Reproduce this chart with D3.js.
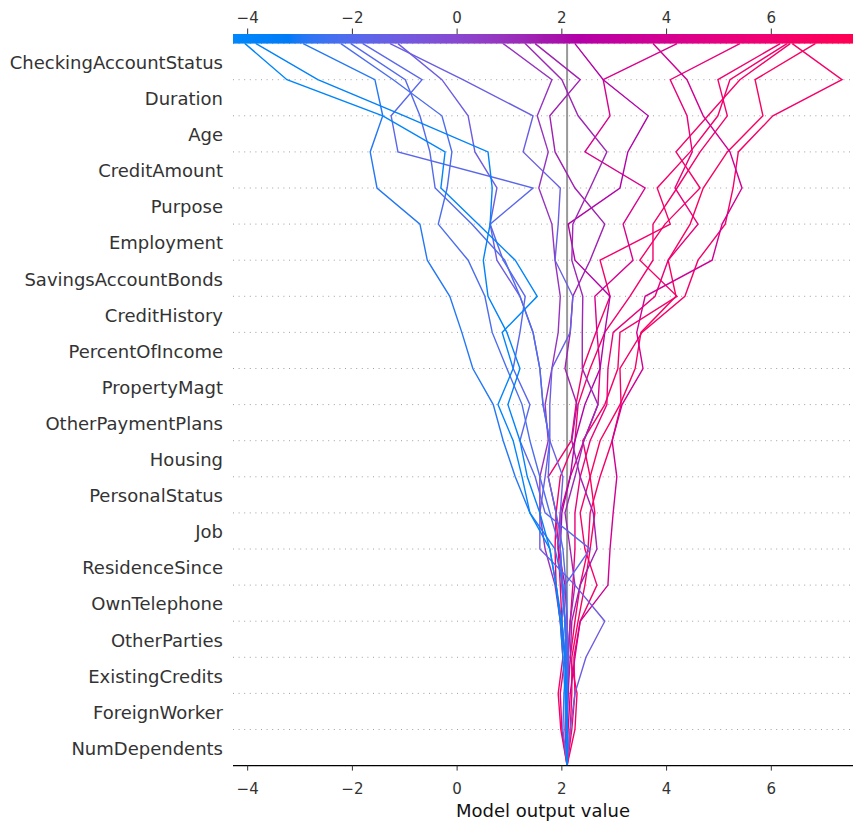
<!DOCTYPE html>
<html>
<head>
<meta charset="utf-8">
<script src="https://cdn.jsdelivr.net/npm/d3@7"></script>
<style>
  html, body { margin: 0; padding: 0; background: #fff; }
  svg { display: block; }
  text { font-family: "DejaVu Sans", sans-serif; }
</style>
</head>
<body>
<svg id="chart" width="863" height="824"></svg>
<script>
// ---- data ----
const features = ["CheckingAccountStatus","Duration","Age","CreditAmount","Purpose","Employment",
  "SavingsAccountBonds","CreditHistory","PercentOfIncome","PropertyMagt","OtherPaymentPlans","Housing",
  "PersonalStatus","Job","ResidenceSince","OwnTelephone","OtherParties","ExistingCredits",
  "ForeignWorker","NumDependents"];
const baseValue = 2.1;
const xTicks = [-4, -2, 0, 2, 4, 6];
const xDomain = [-4.28, 7.56];

// cumulative model output, read top (final output) to bottom (just above base value)
const obs01 = [-4.05,-3.25,-1.42,-0.23,-0.31,0.40,1.11,1.53,0.86,1.07,0.78,1.07,1.24,1.39,1.77,1.89,1.97,2.02,2.06,2.08];
const obs02 = [-3.84,-2.66,-1.01,0.59,0.67,0.63,0.50,0.59,0.95,1.20,0.97,1.20,1.34,1.58,1.77,1.89,2.00,2.06,2.08,2.10];
const obs03 = [-2.94,-1.57,-1.42,-1.66,-1.53,-0.71,-0.57,-0.14,0.09,0.30,0.69,0.88,1.11,1.39,1.87,2.02,2.06,2.08,2.10,2.10];
const obs04 = [-2.22,-1.22,-0.29,-0.10,-0.19,-0.36,0.21,0.53,0.67,0.95,1.24,1.39,1.58,1.77,1.97,2.00,2.06,2.10,2.04,2.02];
const obs05 = [-2.03,-0.99,-0.71,-0.52,-0.42,0.28,0.91,1.20,1.45,1.58,1.64,1.77,1.74,1.89,2.02,2.08,2.10,2.12,2.10,2.08];
const obs06 = [-1.80,-0.67,-1.26,-1.13,1.45,0.63,0.88,1.30,1.20,1.07,1.39,1.20,1.49,1.68,2.54,2.06,2.00,2.06,2.08,2.10];
const obs07 = [-1.13,-0.29,0.21,0.34,0.76,0.63,0.76,1.20,1.45,1.58,1.64,1.77,1.68,1.58,1.58,2.25,2.82,2.46,2.25,2.16];
const obs08 = [-1.28,0.11,1.45,1.26,1.97,1.93,1.87,2.21,2.16,1.81,1.77,1.77,2.02,1.97,1.97,2.02,2.06,2.08,2.10,2.10];
const obs09 = [0.88,1.81,1.53,1.74,1.56,1.81,1.87,1.97,1.93,1.81,1.68,1.74,1.58,1.58,1.68,1.87,1.97,2.06,2.08,2.10];
const obs10 = [1.30,2.00,2.31,2.86,2.54,2.21,2.19,2.40,2.39,2.39,2.69,2.42,2.25,2.06,2.16,2.25,2.16,2.12,2.10,2.10];
const obs11 = [1.49,2.35,1.77,1.87,2.25,2.82,2.54,2.21,2.16,2.06,2.29,2.19,2.35,2.60,2.67,2.35,2.19,2.16,2.12,2.10];
const obs12 = [2.25,2.79,3.65,3.26,3.11,2.12,2.25,2.92,2.82,2.73,2.44,2.25,2.16,2.00,1.97,2.00,2.06,2.10,2.10,2.10];
const obs13 = [4.20,2.79,2.92,2.44,3.59,3.17,3.36,2.63,2.67,2.73,2.69,2.42,2.16,1.97,1.93,2.06,2.10,2.12,2.08,2.06];
const obs14 = [3.74,4.39,4.70,5.21,5.44,5.06,4.87,3.59,3.43,3.55,3.15,2.96,3.05,2.98,2.92,2.88,2.35,2.25,2.16,2.12];
const obs15 = [5.40,4.07,4.39,4.49,4.16,4.60,4.03,3.78,2.98,2.88,2.86,2.54,2.35,2.25,2.25,2.21,2.16,2.12,2.12,2.08];
const obs16 = [6.17,4.98,5.16,4.64,4.20,3.74,3.74,3.30,2.82,2.54,2.31,2.25,1.97,1.89,1.87,1.89,1.97,2.02,1.93,1.98];
const obs17 = [6.30,5.21,4.98,4.45,3.82,4.07,2.73,2.92,2.65,2.40,2.27,2.18,1.74,1.89,1.93,1.97,2.00,2.06,1.97,2.00];
const obs18 = [6.36,5.40,4.79,4.18,4.64,3.97,3.49,4.20,3.11,3.07,2.82,2.40,2.54,2.35,2.44,2.67,2.35,2.23,2.25,2.19];
const obs19 = [6.40,7.35,6.03,5.37,5.27,5.12,4.60,4.35,3.53,3.11,3.13,2.96,2.73,2.54,2.50,2.35,2.25,2.16,2.29,2.25];
const obs20 = [6.84,5.69,5.84,5.16,4.70,4.45,4.03,4.18,3.51,3.40,3.11,2.73,2.54,2.63,2.54,2.44,2.31,2.19,2.19,2.16];
const observations = [obs01,obs02,obs03,obs04,obs05,obs06,obs07,obs08,obs09,obs10,
                      obs11,obs12,obs13,obs14,obs15,obs16,obs17,obs18,obs19,obs20];

// ---- shap red_blue colormap (LCH interpolation) ----
function redBlue(t) {
  t = Math.max(0, Math.min(1, t));
  const L = t < 0.5 ? 54 + (40 - 54) * (t / 0.5) : 40 + (54 - 40) * ((t - 0.5) / 0.5);
  const C = 70 + 20 * t;
  const H = 4.6588 + ((0.35470565 + 2 * Math.PI) - 4.6588) * t;
  return d3.hcl(H * 180 / Math.PI, C, L).formatHex();
}

// ---- layout ----
const svg = d3.select("#chart");
const plotLeft = 233, plotRight = 853, plotTop = 43.6, plotBottom = 765.6;
const n = features.length;
const x = d3.scaleLinear().domain(xDomain).range([plotLeft, plotRight]);
const y = d3.scaleLinear().domain([0, n]).range([plotBottom, plotTop]);

// dotted row separators
svg.append("g").selectAll("line").data(d3.range(0, n + 1)).join("line")
  .attr("x1", plotLeft).attr("x2", plotRight)
  .attr("y1", d => y(d)).attr("y2", d => y(d))
  .attr("stroke", "#888").attr("stroke-width", 0.8)
  .attr("stroke-dasharray", "1,4.6");

// base value line
svg.append("line")
  .attr("x1", x(baseValue)).attr("x2", x(baseValue))
  .attr("y1", plotTop).attr("y2", plotBottom)
  .attr("stroke", "#999999").attr("stroke-width", 2);

// decision lines
const lineGen = d3.line().x(d => x(d.v)).y(d => y(d.k));
const tOf = v => (v - xDomain[0]) / (xDomain[1] - xDomain[0]);
const sorted = observations.slice().sort((a, b) => b[0] - a[0]);
svg.append("g").selectAll("path").data(sorted).join("path")
  .attr("d", arr => {
    const pts = arr.map((v, i) => ({ v: v, k: n - i }));
    pts.push({ v: baseValue, k: 0 });
    return lineGen(pts);
  })
  .attr("fill", "none")
  .attr("stroke", arr => redBlue(tOf(arr[0])))
  .attr("stroke-width", 1.4)
  .attr("stroke-linejoin", "miter");

// color bar
const defs = svg.append("defs");
const grad = defs.append("linearGradient").attr("id", "cbar")
  .attr("x1", "0%").attr("x2", "100%").attr("y1", "0%").attr("y2", "0%");
d3.range(0, 101).forEach(i => {
  grad.append("stop").attr("offset", i + "%").attr("stop-color", redBlue(i / 100));
});
svg.append("rect").attr("x", plotLeft).attr("y", 34).attr("width", plotRight - plotLeft).attr("height", plotTop - 34)
  .attr("fill", "url(#cbar)");

// feature labels
svg.append("g").selectAll("text").data(features).join("text")
  .attr("x", 223)
  .attr("y", (d, i) => y(n - i - 0.5) + 7.3)
  .attr("text-anchor", "end")
  .attr("font-size", 18)
  .attr("fill", "#333333")
  .text(d => d);

const fmt = v => (v < 0 ? "\u2212" + Math.abs(v) : String(v));

// top axis
const topAxis = svg.append("g");
topAxis.selectAll("line").data(xTicks).join("line")
  .attr("x1", d => x(d)).attr("x2", d => x(d))
  .attr("y1", 28.5).attr("y2", 34)
  .attr("stroke", "#333").attr("stroke-width", 1);
topAxis.selectAll("text").data(xTicks).join("text")
  .attr("x", d => x(d)).attr("y", 23)
  .attr("text-anchor", "middle").attr("font-size", 15).attr("fill", "#333333")
  .text(fmt);

// bottom axis
const botAxis = svg.append("g");
botAxis.append("line").attr("x1", plotLeft).attr("x2", plotRight).attr("y1", plotBottom).attr("y2", plotBottom)
  .attr("stroke", "#000").attr("stroke-width", 1.1);
botAxis.selectAll("line.tick").data(xTicks).join("line").attr("class", "tick")
  .attr("x1", d => x(d)).attr("x2", d => x(d))
  .attr("y1", plotBottom).attr("y2", plotBottom + 5)
  .attr("stroke", "#333").attr("stroke-width", 1);
botAxis.selectAll("text").data(xTicks).join("text")
  .attr("x", d => x(d)).attr("y", 794)
  .attr("text-anchor", "middle").attr("font-size", 15).attr("fill", "#333333")
  .text(fmt);
svg.append("text").attr("x", (plotLeft + plotRight) / 2).attr("y", 817)
  .attr("text-anchor", "middle").attr("font-size", 18).attr("fill", "#111")
  .text("Model output value");
</script>
</body>
</html>
